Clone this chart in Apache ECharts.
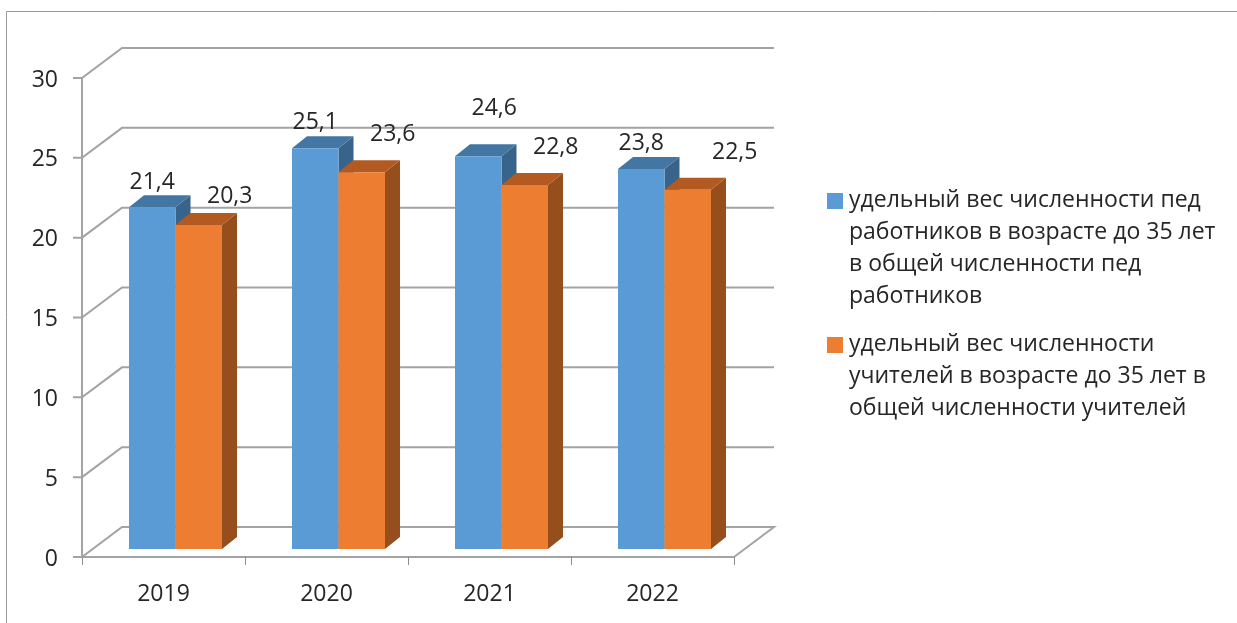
<!DOCTYPE html>
<html lang="ru" style="height: 100%">
<head>
<meta charset="utf-8">
<title>Удельный вес молодых педагогов</title>
</head>
<body style="height: 100%; margin: 0; background: #fff">
<div id="container" style="height: 100%"></div>

<script type="text/javascript" src="https://cdn.jsdelivr.net/npm/echarts@6/dist/echarts.min.js"></script>

<script type="text/javascript">
var years = ['2019', '2020', '2021', '2022'];
var wallTicks = [0, 5, 10, 15, 20, 25, 30];
var pedWorkers = [21.4, 25.1, 24.6, 23.8];
var teachers = [20.3, 23.6, 22.8, 22.5];
var pedWorkersName = 'удельный вес численности пед\nработников в возрасте до 35 лет\nв общей численности пед\nработников';
var teachersName = 'удельный вес численности\nучителей в возрасте до 35 лет в\nобщей численности учителей';

// data labels were dragged around by hand in the original
var pedWorkersNudge = [[0, -25], [0, -26], [16, -48], [0, -26]];
var teachersNudge = [[31, -28], [31, -38], [31, -38], [47, -37]];

var FONT = '"Open Sans", sans-serif';
var TEXT = '#262626';
var LINE = '#a3a3a3';
var WALL_DX = 40, WALL_DY = 30;   // depth of the whole chart box
var Y_TICK = 9;
var BAR_W = 46.5;
var BAR_DX = 15, BAR_DY = 12;     // depth of a bar
var BAR_FLOOR_DX = 12, BAR_FLOOR_DY = 8;

var dom = document.getElementById('container');
var myChart = echarts.init(dom);

function face(points, color) {
    return { type: 'polygon', shape: { points: points }, style: { fill: color } };
}

// one series of fake 3d bars: front, top and side faces plus its label
function barRenderer(slot, colors, nudge) {
    return function (params, api) {
        var i = api.value(0);
        var v = api.value(1);
        var base = api.coord([i, 0]);
        var head = api.coord([i, v]);
        var left = base[0] + BAR_FLOOR_DX + (slot - 1) * BAR_W;
        var right = left + BAR_W;
        var bottom = base[1] - BAR_FLOOR_DY;
        var top = head[1] - BAR_FLOOR_DY;
        return {
            type: 'group',
            children: [
                face([[right, top], [right + BAR_DX, top - BAR_DY], [right + BAR_DX, bottom - BAR_DY], [right, bottom]], colors[2]),
                face([[left, top], [left + BAR_DX, top - BAR_DY], [right + BAR_DX, top - BAR_DY], [right, top]], colors[1]),
                face([[left, top], [right, top], [right, bottom], [left, bottom]], colors[0]),
                {
                    type: 'text',
                    z2: 10,
                    style: {
                        text: String(v).replace('.', ','),
                        x: (left + right) / 2 + nudge[i][0],
                        y: top + nudge[i][1],
                        align: 'center',
                        verticalAlign: 'middle',
                        font: '23px ' + FONT,
                        fill: TEXT
                    }
                }
            ]
        };
    };
}

// tick, then the gridline running back along the side wall and across the back wall
function wallRenderer(params, api) {
    var box = params.coordSys;
    var y = api.coord([0, api.value(1)])[1];
    var points = [[box.x - Y_TICK, y], [box.x, y], [box.x + WALL_DX, y - WALL_DY], [box.x + box.width + WALL_DX, y - WALL_DY]];
    if (api.value(1) === 0) {
        points.push([box.x + box.width, y]);
    }
    return {
        type: 'polyline',
        shape: { points: points },
        style: { fill: null, stroke: LINE, lineWidth: 2 }
    };
}

var option = {
    animation: false,
    backgroundColor: '#fff',
    textStyle: { fontFamily: FONT },
    grid: { left: 82, right: 503, top: 78, bottom: 66 },
    // the frame of the pasted picture
    graphic: [
        { type: 'line', silent: true, shape: { x1: 6.5, y1: 11.5, x2: 1237, y2: 11.5 }, style: { stroke: '#999', lineWidth: 1 } },
        { type: 'line', silent: true, shape: { x1: 6.5, y1: 11.5, x2: 6.5, y2: 623 }, style: { stroke: '#999', lineWidth: 1 } }
    ],
    legend: {
        orient: 'vertical',
        left: 827,
        top: 184,
        padding: 0,
        itemGap: 0,
        itemWidth: 16,
        itemHeight: 128,
        data: [
            { name: pedWorkersName, icon: 'path://M0 0L0 0M0 9H16V25H0ZM16 128L16 128', itemStyle: { color: '#5b9bd5' } },
            { name: teachersName, icon: 'path://M0 0L0 0M0 25H16V41H0ZM16 128L16 128', itemStyle: { color: '#ed7d31' } }
        ],
        textStyle: { fontFamily: FONT, fontSize: 23, color: TEXT, lineHeight: 32, padding: [0, 0, 0, 1] }
    },
    xAxis: {
        type: 'category',
        data: years,
        axisLine: { show: true, lineStyle: { color: LINE, width: 2 } },
        axisTick: { show: true, length: 8, lineStyle: { color: '#8c8c8c', width: 1 } },
        axisLabel: { margin: 26, fontFamily: FONT, fontSize: 23, color: TEXT },
        splitLine: { show: false }
    },
    yAxis: {
        type: 'value',
        min: 0,
        max: 30,
        interval: 5,
        axisLine: { show: true, lineStyle: { color: LINE, width: 2 } },
        axisTick: { show: false },
        axisLabel: {
            margin: 24,
            formatter: '{n|{value}}',
            rich: { n: { padding: [4, 0, 0, 0], fontFamily: FONT, fontSize: 23, color: TEXT } }
        },
        splitLine: { show: false }
    },
    series: [
        {
            type: 'custom',
            name: 'walls',
            silent: true,
            z: 1,
            renderItem: wallRenderer,
            encode: { x: 0, y: 1 },
            data: wallTicks.map(function (t) { return [0, t]; })
        },
        {
            type: 'custom',
            name: pedWorkersName,
            z: 2,
            renderItem: barRenderer(0, ['#5b9bd5', '#4476a3', '#38648b'], pedWorkersNudge),
            encode: { x: 0, y: 1 },
            data: pedWorkers.map(function (v, i) { return [i, v]; })
        },
        {
            type: 'custom',
            name: teachersName,
            z: 3,
            renderItem: barRenderer(1, ['#ed7d31', '#b35a22', '#964f1c'], teachersNudge),
            encode: { x: 0, y: 1 },
            data: teachers.map(function (v, i) { return [i, v]; })
        }
    ]
};

myChart.setOption(option);
window.addEventListener('resize', myChart.resize);
</script>
</body>
</html>
